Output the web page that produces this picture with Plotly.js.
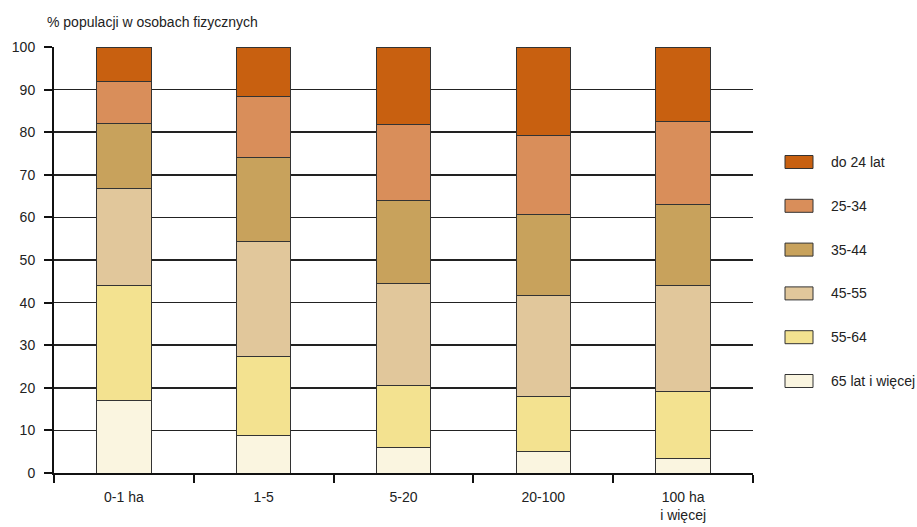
<!DOCTYPE html>
<html><head><meta charset="utf-8">
<script src="https://cdn.plot.ly/plotly-3.0.1.min.js"></script>
<style>html,body{margin:0;padding:0;background:#fff;}#chart{width:917px;height:527px;}</style>
</head><body><div id="chart"></div>
<script>
var categories = ['0-1 ha', '1-5', '5-20', '20-100', '100 ha<br>i więcej'];
var seriesNames = ['65 lat i więcej', '55-64', '45-55', '35-44', '25-34', 'do 24 lat'];
var v65plus = [17.0, 8.8, 5.9, 5.0, 3.5];
var v55_64 = [27.0, 18.5, 14.7, 13.0, 15.7];
var v45_55 = [22.8, 27.1, 23.8, 23.6, 24.8];
var v35_44 = [15.2, 19.6, 19.6, 19.0, 19.1];
var v25_34 = [10.0, 14.3, 17.7, 18.7, 19.5];
var vDo24 = [8.0, 11.7, 18.3, 20.7, 17.4];
var yTicks = [0, 10, 20, 30, 40, 50, 60, 70, 80, 90, 100];
var colors = ['#FAF5E0', '#F3E290', '#E1C79B', '#C8A25C', '#D98E5A', '#C86010'];
var seriesValues = [v65plus, v55_64, v45_55, v35_44, v25_34, vDo24];

var FONT = '"Liberation Sans Narrow", "Arial Narrow", "Liberation Sans", Arial, sans-serif';

var traces = seriesValues.map(function (vals, i) {
  return {
    type: 'bar', name: seriesNames[i], x: categories, y: vals,
    marker: { color: colors[i], line: { color: '#333333', width: 1 } },
    showlegend: false, hoverinfo: 'skip'
  };
});

// custom legend (top entry = last series)
var shapes = [], annotations = [];
var legX0 = 785, legW = 28, legH = 13, legY0 = 162, legStep = 43.8;
for (var k = 0; k < seriesNames.length; k++) {
  var idx = seriesNames.length - 1 - k;
  var cy = legY0 + k * legStep;
  shapes.push({
    type: 'rect', xref: 'paper', yref: 'paper',
    x0: (legX0 - 54) / 699, x1: (legX0 + legW - 54) / 699,
    y0: (473 - (cy + legH / 2)) / 426, y1: (473 - (cy - legH / 2)) / 426,
    fillcolor: colors[idx], line: { color: '#333333', width: 1 }
  });
  annotations.push({
    xref: 'paper', yref: 'paper', x: (829 - 54) / 699, y: (473 - cy) / 426,
    xanchor: 'left', yanchor: 'middle', showarrow: false,
    text: seriesNames[idx], font: { family: FONT, size: 14, color: '#222' }
  });
}
annotations.push({
  xref: 'paper', yref: 'paper', x: (45 - 54) / 699, y: (473 - 22) / 426,
  xanchor: 'left', yanchor: 'middle', showarrow: false,
  text: '% populacji w osobach fizycznych', font: { family: FONT, size: 14, color: '#222' }
});

var layout = {
  width: 917, height: 527,
  margin: { l: 54, r: 164, t: 47, b: 54, pad: 0 },
  paper_bgcolor: '#ffffff', plot_bgcolor: '#ffffff',
  barmode: 'stack', bargap: 0.61,
  font: { family: FONT, size: 14, color: '#222' },
  showlegend: false,
  xaxis: {
    type: 'category', showline: true, linecolor: '#111', linewidth: 2,
    ticks: 'outside', tickson: 'boundaries', ticklen: 8, tickwidth: 2, tickcolor: '#111',
    ticklabelstandoff: 10,
    showgrid: false, zeroline: false, tickfont: { family: FONT, size: 14, color: '#222' }
  },
  yaxis: {
    range: [0, 100], tickvals: yTicks, ticktext: yTicks.map(String),
    showline: true, linecolor: '#111', linewidth: 2,
    ticks: 'outside', ticklen: 8, tickwidth: 2, tickcolor: '#111',
    ticklabelstandoff: 6,
    showgrid: true, gridcolor: '#222', gridwidth: 1.6, zeroline: false,
    tickfont: { family: FONT, size: 14, color: '#222' }
  },
  shapes: shapes, annotations: annotations
};

Plotly.newPlot('chart', traces, layout, { staticPlot: true, displayModeBar: false });
</script></body></html>
